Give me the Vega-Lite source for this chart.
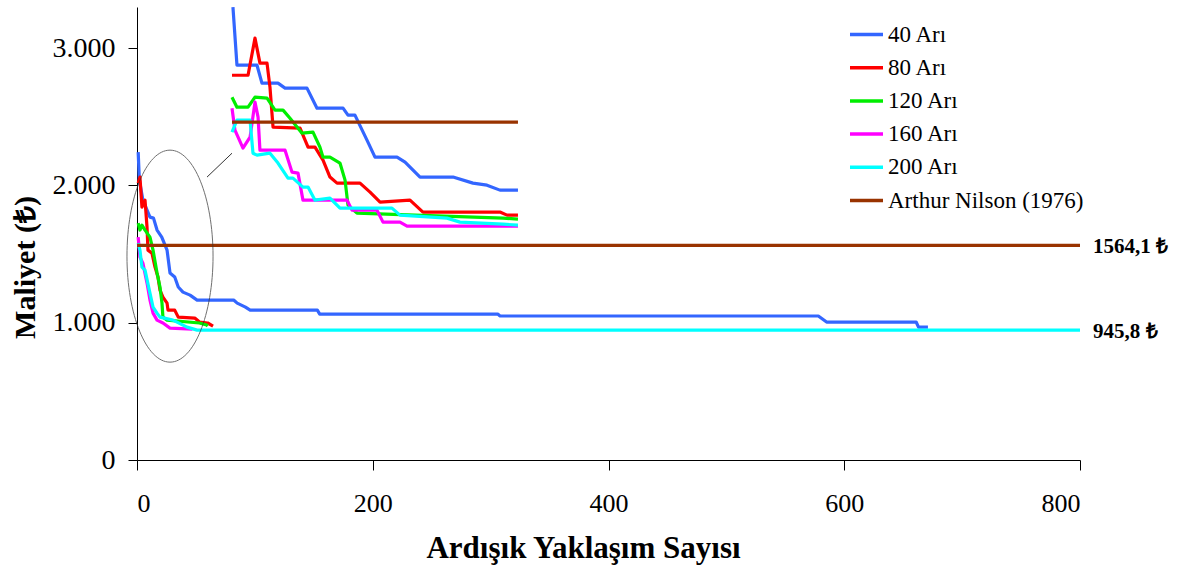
{
  "$schema": "https://vega.github.io/schema/vega-lite/v6.json",
  "width": 943,
  "height": 453,
  "autosize": {"type": "none"},
  "padding": {"left": 137, "top": 7, "right": 98, "bottom": 108},
  "background": "white",
  "config": {
    "view": {"stroke": null},
    "font": "Liberation Serif",
    "axis": {"grid": false, "domainColor": "#000", "tickColor": "#000", "labelColor": "#000", "titleColor": "#000", "labelFont": "Liberation Serif", "titleFont": "Liberation Serif"}
  },
  "datasets": {
    "lines": [
      {"s": "40 Arı", "p": "main", "x": 1, "y": 2243},
      {"s": "40 Arı", "p": "main", "x": 2, "y": 2039},
      {"s": "40 Arı", "p": "main", "x": 5, "y": 1893},
      {"s": "40 Arı", "p": "main", "x": 11, "y": 1769},
      {"s": "40 Arı", "p": "main", "x": 14, "y": 1762},
      {"s": "40 Arı", "p": "main", "x": 17, "y": 1675},
      {"s": "40 Arı", "p": "main", "x": 21, "y": 1624},
      {"s": "40 Arı", "p": "main", "x": 25.5, "y": 1529},
      {"s": "40 Arı", "p": "main", "x": 28, "y": 1362},
      {"s": "40 Arı", "p": "main", "x": 32, "y": 1333},
      {"s": "40 Arı", "p": "main", "x": 35, "y": 1260},
      {"s": "40 Arı", "p": "main", "x": 39, "y": 1223},
      {"s": "40 Arı", "p": "main", "x": 45, "y": 1201},
      {"s": "40 Arı", "p": "main", "x": 51, "y": 1165},
      {"s": "40 Arı", "p": "main", "x": 82, "y": 1165},
      {"s": "40 Arı", "p": "main", "x": 85, "y": 1143},
      {"s": "40 Arı", "p": "main", "x": 92, "y": 1114},
      {"s": "40 Arı", "p": "main", "x": 96, "y": 1092},
      {"s": "40 Arı", "p": "main", "x": 153, "y": 1092},
      {"s": "40 Arı", "p": "main", "x": 155, "y": 1063},
      {"s": "40 Arı", "p": "main", "x": 306, "y": 1063},
      {"s": "40 Arı", "p": "main", "x": 308, "y": 1049},
      {"s": "40 Arı", "p": "main", "x": 578, "y": 1049},
      {"s": "40 Arı", "p": "main", "x": 585, "y": 1005},
      {"s": "40 Arı", "p": "main", "x": 661, "y": 1005},
      {"s": "40 Arı", "p": "main", "x": 663, "y": 968},
      {"s": "40 Arı", "p": "main", "x": 671, "y": 968},

      {"s": "80 Arı", "p": "main", "x": 1, "y": 2017},
      {"s": "80 Arı", "p": "main", "x": 2.5, "y": 2061},
      {"s": "80 Arı", "p": "main", "x": 4.2, "y": 1842},
      {"s": "80 Arı", "p": "main", "x": 6.8, "y": 1893},
      {"s": "80 Arı", "p": "main", "x": 8.5, "y": 1697},
      {"s": "80 Arı", "p": "main", "x": 9.3, "y": 1529},
      {"s": "80 Arı", "p": "main", "x": 12.7, "y": 1507},
      {"s": "80 Arı", "p": "main", "x": 15.3, "y": 1405},
      {"s": "80 Arı", "p": "main", "x": 17.8, "y": 1333},
      {"s": "80 Arı", "p": "main", "x": 19.5, "y": 1238},
      {"s": "80 Arı", "p": "main", "x": 22, "y": 1187},
      {"s": "80 Arı", "p": "main", "x": 25.5, "y": 1143},
      {"s": "80 Arı", "p": "main", "x": 26.3, "y": 1092},
      {"s": "80 Arı", "p": "main", "x": 32, "y": 1092},
      {"s": "80 Arı", "p": "main", "x": 35, "y": 1041},
      {"s": "80 Arı", "p": "main", "x": 49, "y": 1034},
      {"s": "80 Arı", "p": "main", "x": 53, "y": 1005},
      {"s": "80 Arı", "p": "main", "x": 60, "y": 998},
      {"s": "80 Arı", "p": "main", "x": 64.5, "y": 976},

      {"s": "120 Arı", "p": "main", "x": 1, "y": 1726},
      {"s": "120 Arı", "p": "main", "x": 2.5, "y": 1675},
      {"s": "120 Arı", "p": "main", "x": 4.2, "y": 1711},
      {"s": "120 Arı", "p": "main", "x": 6.8, "y": 1675},
      {"s": "120 Arı", "p": "main", "x": 11, "y": 1624},
      {"s": "120 Arı", "p": "main", "x": 13.6, "y": 1529},
      {"s": "120 Arı", "p": "main", "x": 17, "y": 1362},
      {"s": "120 Arı", "p": "main", "x": 19.5, "y": 1260},
      {"s": "120 Arı", "p": "main", "x": 21.2, "y": 1143},
      {"s": "120 Arı", "p": "main", "x": 22, "y": 1041},
      {"s": "120 Arı", "p": "main", "x": 25.5, "y": 1019},
      {"s": "120 Arı", "p": "main", "x": 53, "y": 998},
      {"s": "120 Arı", "p": "main", "x": 59, "y": 983},
      {"s": "120 Arı", "p": "main", "x": 60, "y": 976},

      {"s": "160 Arı", "p": "main", "x": 1, "y": 1624},
      {"s": "160 Arı", "p": "main", "x": 2.5, "y": 1478},
      {"s": "160 Arı", "p": "main", "x": 5, "y": 1434},
      {"s": "160 Arı", "p": "main", "x": 8.5, "y": 1289},
      {"s": "160 Arı", "p": "main", "x": 11, "y": 1165},
      {"s": "160 Arı", "p": "main", "x": 13.6, "y": 1070},
      {"s": "160 Arı", "p": "main", "x": 17, "y": 1019},
      {"s": "160 Arı", "p": "main", "x": 22, "y": 998},
      {"s": "160 Arı", "p": "main", "x": 28, "y": 961},
      {"s": "160 Arı", "p": "main", "x": 47, "y": 954},

      {"s": "200 Arı", "p": "main", "x": 1, "y": 1580},
      {"s": "200 Arı", "p": "main", "x": 2.5, "y": 1529},
      {"s": "200 Arı", "p": "main", "x": 4.2, "y": 1405},
      {"s": "200 Arı", "p": "main", "x": 6.8, "y": 1383},
      {"s": "200 Arı", "p": "main", "x": 11, "y": 1216},
      {"s": "200 Arı", "p": "main", "x": 13.6, "y": 1114},
      {"s": "200 Arı", "p": "main", "x": 17, "y": 1070},
      {"s": "200 Arı", "p": "main", "x": 19.5, "y": 1041},
      {"s": "200 Arı", "p": "main", "x": 30.5, "y": 1019},
      {"s": "200 Arı", "p": "main", "x": 42.4, "y": 968},
      {"s": "200 Arı", "p": "main", "x": 51, "y": 946},
      {"s": "200 Arı", "p": "main", "x": 800, "y": 945.8},

      {"s": "40 Arı", "p": "inset", "x": 81.4, "y": 3299},
      {"s": "40 Arı", "p": "inset", "x": 84.8, "y": 2876},
      {"s": "40 Arı", "p": "inset", "x": 101.8, "y": 2876},
      {"s": "40 Arı", "p": "inset", "x": 106, "y": 2745},
      {"s": "40 Arı", "p": "inset", "x": 119.6, "y": 2745},
      {"s": "40 Arı", "p": "inset", "x": 125.6, "y": 2709},
      {"s": "40 Arı", "p": "inset", "x": 144.2, "y": 2709},
      {"s": "40 Arı", "p": "inset", "x": 152.7, "y": 2563},
      {"s": "40 Arı", "p": "inset", "x": 174.8, "y": 2563},
      {"s": "40 Arı", "p": "inset", "x": 179, "y": 2512},
      {"s": "40 Arı", "p": "inset", "x": 184.9, "y": 2512},
      {"s": "40 Arı", "p": "inset", "x": 195.1, "y": 2330},
      {"s": "40 Arı", "p": "inset", "x": 201.9, "y": 2206},
      {"s": "40 Arı", "p": "inset", "x": 220.6, "y": 2206},
      {"s": "40 Arı", "p": "inset", "x": 227.4, "y": 2170},
      {"s": "40 Arı", "p": "inset", "x": 240.1, "y": 2061},
      {"s": "40 Arı", "p": "inset", "x": 268.1, "y": 2061},
      {"s": "40 Arı", "p": "inset", "x": 285, "y": 2017},
      {"s": "40 Arı", "p": "inset", "x": 296.9, "y": 2002},
      {"s": "40 Arı", "p": "inset", "x": 307.9, "y": 1966},
      {"s": "40 Arı", "p": "inset", "x": 323.2, "y": 1966},

      {"s": "80 Arı", "p": "inset", "x": 80.6, "y": 2803},
      {"s": "80 Arı", "p": "inset", "x": 94.2, "y": 2803},
      {"s": "80 Arı", "p": "inset", "x": 100.1, "y": 3073},
      {"s": "80 Arı", "p": "inset", "x": 104.3, "y": 2891},
      {"s": "80 Arı", "p": "inset", "x": 110.3, "y": 2891},
      {"s": "80 Arı", "p": "inset", "x": 112.8, "y": 2716},
      {"s": "80 Arı", "p": "inset", "x": 115.4, "y": 2425},
      {"s": "80 Arı", "p": "inset", "x": 138.3, "y": 2418},
      {"s": "80 Arı", "p": "inset", "x": 145.1, "y": 2279},
      {"s": "80 Arı", "p": "inset", "x": 151, "y": 2279},
      {"s": "80 Arı", "p": "inset", "x": 157.8, "y": 2184},
      {"s": "80 Arı", "p": "inset", "x": 163.7, "y": 2061},
      {"s": "80 Arı", "p": "inset", "x": 169.7, "y": 2017},
      {"s": "80 Arı", "p": "inset", "x": 189.2, "y": 2017},
      {"s": "80 Arı", "p": "inset", "x": 197.7, "y": 1951},
      {"s": "80 Arı", "p": "inset", "x": 206.2, "y": 1879},
      {"s": "80 Arı", "p": "inset", "x": 231.6, "y": 1893},
      {"s": "80 Arı", "p": "inset", "x": 242.6, "y": 1806},
      {"s": "80 Arı", "p": "inset", "x": 307.9, "y": 1806},
      {"s": "80 Arı", "p": "inset", "x": 313.9, "y": 1784},
      {"s": "80 Arı", "p": "inset", "x": 323.2, "y": 1784},

      {"s": "120 Arı", "p": "inset", "x": 80.6, "y": 2643},
      {"s": "120 Arı", "p": "inset", "x": 84.8, "y": 2570},
      {"s": "120 Arı", "p": "inset", "x": 94.2, "y": 2570},
      {"s": "120 Arı", "p": "inset", "x": 100.1, "y": 2643},
      {"s": "120 Arı", "p": "inset", "x": 110.3, "y": 2636},
      {"s": "120 Arı", "p": "inset", "x": 117.1, "y": 2549},
      {"s": "120 Arı", "p": "inset", "x": 123.9, "y": 2549},
      {"s": "120 Arı", "p": "inset", "x": 129.8, "y": 2490},
      {"s": "120 Arı", "p": "inset", "x": 140, "y": 2381},
      {"s": "120 Arı", "p": "inset", "x": 149.3, "y": 2388},
      {"s": "120 Arı", "p": "inset", "x": 155.2, "y": 2279},
      {"s": "120 Arı", "p": "inset", "x": 157.8, "y": 2206},
      {"s": "120 Arı", "p": "inset", "x": 163.7, "y": 2206},
      {"s": "120 Arı", "p": "inset", "x": 172.2, "y": 2163},
      {"s": "120 Arı", "p": "inset", "x": 176.5, "y": 2039},
      {"s": "120 Arı", "p": "inset", "x": 179, "y": 1857},
      {"s": "120 Arı", "p": "inset", "x": 186.6, "y": 1799},
      {"s": "120 Arı", "p": "inset", "x": 310.5, "y": 1762},
      {"s": "120 Arı", "p": "inset", "x": 323.2, "y": 1755},

      {"s": "160 Arı", "p": "inset", "x": 80.6, "y": 2563},
      {"s": "160 Arı", "p": "inset", "x": 83.1, "y": 2403},
      {"s": "160 Arı", "p": "inset", "x": 89.9, "y": 2272},
      {"s": "160 Arı", "p": "inset", "x": 95.9, "y": 2352},
      {"s": "160 Arı", "p": "inset", "x": 100.1, "y": 2607},
      {"s": "160 Arı", "p": "inset", "x": 102.7, "y": 2498},
      {"s": "160 Arı", "p": "inset", "x": 104.3, "y": 2257},
      {"s": "160 Arı", "p": "inset", "x": 125.6, "y": 2257},
      {"s": "160 Arı", "p": "inset", "x": 131.5, "y": 2097},
      {"s": "160 Arı", "p": "inset", "x": 136.6, "y": 2090},
      {"s": "160 Arı", "p": "inset", "x": 140.8, "y": 1893},
      {"s": "160 Arı", "p": "inset", "x": 178.2, "y": 1893},
      {"s": "160 Arı", "p": "inset", "x": 182.4, "y": 1820},
      {"s": "160 Arı", "p": "inset", "x": 203.6, "y": 1820},
      {"s": "160 Arı", "p": "inset", "x": 208.7, "y": 1733},
      {"s": "160 Arı", "p": "inset", "x": 223.1, "y": 1733},
      {"s": "160 Arı", "p": "inset", "x": 229.1, "y": 1704},
      {"s": "160 Arı", "p": "inset", "x": 323.2, "y": 1704},

      {"s": "200 Arı", "p": "inset", "x": 80.6, "y": 2388},
      {"s": "200 Arı", "p": "inset", "x": 84.8, "y": 2476},
      {"s": "200 Arı", "p": "inset", "x": 95.9, "y": 2476},
      {"s": "200 Arı", "p": "inset", "x": 98.4, "y": 2235},
      {"s": "200 Arı", "p": "inset", "x": 101.8, "y": 2221},
      {"s": "200 Arı", "p": "inset", "x": 112.8, "y": 2235},
      {"s": "200 Arı", "p": "inset", "x": 119.6, "y": 2163},
      {"s": "200 Arı", "p": "inset", "x": 128.1, "y": 2053},
      {"s": "200 Arı", "p": "inset", "x": 132.3, "y": 2053},
      {"s": "200 Arı", "p": "inset", "x": 140.8, "y": 1988},
      {"s": "200 Arı", "p": "inset", "x": 145.1, "y": 1988},
      {"s": "200 Arı", "p": "inset", "x": 151, "y": 1893},
      {"s": "200 Arı", "p": "inset", "x": 163.7, "y": 1908},
      {"s": "200 Arı", "p": "inset", "x": 172.2, "y": 1835},
      {"s": "200 Arı", "p": "inset", "x": 216.3, "y": 1835},
      {"s": "200 Arı", "p": "inset", "x": 223.1, "y": 1784},
      {"s": "200 Arı", "p": "inset", "x": 263, "y": 1762},
      {"s": "200 Arı", "p": "inset", "x": 274, "y": 1733},
      {"s": "200 Arı", "p": "inset", "x": 310.5, "y": 1718},
      {"s": "200 Arı", "p": "inset", "x": 323.2, "y": 1711},

      {"s": "Arthur Nilson (1976)", "p": "main", "x": 0, "y": 1564.1},
      {"s": "Arthur Nilson (1976)", "p": "main", "x": 800, "y": 1564.1},
      {"s": "Arthur Nilson (1976)", "p": "inset", "x": 80.6, "y": 2461},
      {"s": "Arthur Nilson (1976)", "p": "inset", "x": 323.2, "y": 2461}
    ],
    "labels": [
      {"x": 800, "y": 1564.1, "t": "1564,1 ₺"},
      {"x": 800, "y": 945.8, "t": "945,8 ₺"}
    ],
    "ellipse": [{"x": 28, "y": 1485}],
    "connector": [{"x": 59.4, "y": 2061, "x2": 80.6, "y2": 2235}]
  },
  "layer": [
    {
      "data": {"name": "lines"},
      "mark": {"type": "line", "strokeWidth": 3.2, "strokeJoin": "round", "strokeCap": "butt"},
      "encoding": {
        "x": {"field": "x", "type": "quantitative", "scale": {"domain": [0, 800], "nice": false},
          "axis": {"values": [0, 200, 400, 600, 800], "tickSize": 10, "labelPadding": 20, "labelFontSize": 26, "title": "Ardışık Yaklaşım Sayısı", "titleFontSize": 31, "titleFontWeight": "bold", "titleX": 446, "titleY": 88, "titleBaseline": "middle"}},
        "y": {"field": "y", "type": "quantitative", "scale": {"domain": [0, 3300], "nice": false},
          "axis": {"values": [0, 1000, 2000, 3000], "tickSize": 9, "labelPadding": 13, "labelFontSize": 28, "labelExpr": "replace(format(datum.value, ','), ',', '.')", "title": "Maliyet (₺)", "titleFontSize": 30, "titleFontWeight": "bold", "titlePadding": 12, "titleY": 260}},
        "color": {"field": "s", "type": "nominal",
          "scale": {"domain": ["40 Arı", "80 Arı", "120 Arı", "160 Arı", "200 Arı", "Arthur Nilson (1976)"],
                    "range": ["#3366FF", "#FF0000", "#00EE00", "#FF00FF", "#00FFFF", "#993300"]},
          "legend": {"title": null, "orient": "none", "legendX": 711, "legendY": 9, "padding": 0, "symbolType": "stroke", "symbolSize": 1089, "symbolStrokeWidth": 3.5, "rowPadding": 2.2, "labelFont": "Liberation Serif", "labelFontSize": 23, "labelColor": "#000", "labelOffset": 3, "labelLimit": 400}},
        "detail": {"field": "p"}
      }
    },
    {
      "data": {"name": "labels"},
      "mark": {"type": "text", "align": "left", "baseline": "middle", "dx": 13, "dy": 2, "fontSize": 21, "fontWeight": "bold", "font": "Liberation Serif", "color": "#000"},
      "encoding": {
        "x": {"field": "x", "type": "quantitative"},
        "y": {"field": "y", "type": "quantitative"},
        "text": {"field": "t"}
      }
    },
    {
      "data": {"name": "ellipse"},
      "mark": {"type": "point", "filled": false, "stroke": "#333", "strokeWidth": 1, "size": 44944,
        "shape": "M 0.406 0 C 0.406 0.5523 0.2242 1 0 1 C -0.2242 1 -0.406 0.5523 -0.406 0 C -0.406 -0.5523 -0.2242 -1 0 -1 C 0.2242 -1 0.406 -0.5523 0.406 0 Z"},
      "encoding": {
        "x": {"field": "x", "type": "quantitative"},
        "y": {"field": "y", "type": "quantitative"}
      }
    },
    {
      "data": {"name": "connector"},
      "mark": {"type": "rule", "stroke": "#333", "strokeWidth": 1},
      "encoding": {
        "x": {"field": "x", "type": "quantitative"},
        "y": {"field": "y", "type": "quantitative"},
        "x2": {"field": "x2"},
        "y2": {"field": "y2"}
      }
    }
  ]
}
